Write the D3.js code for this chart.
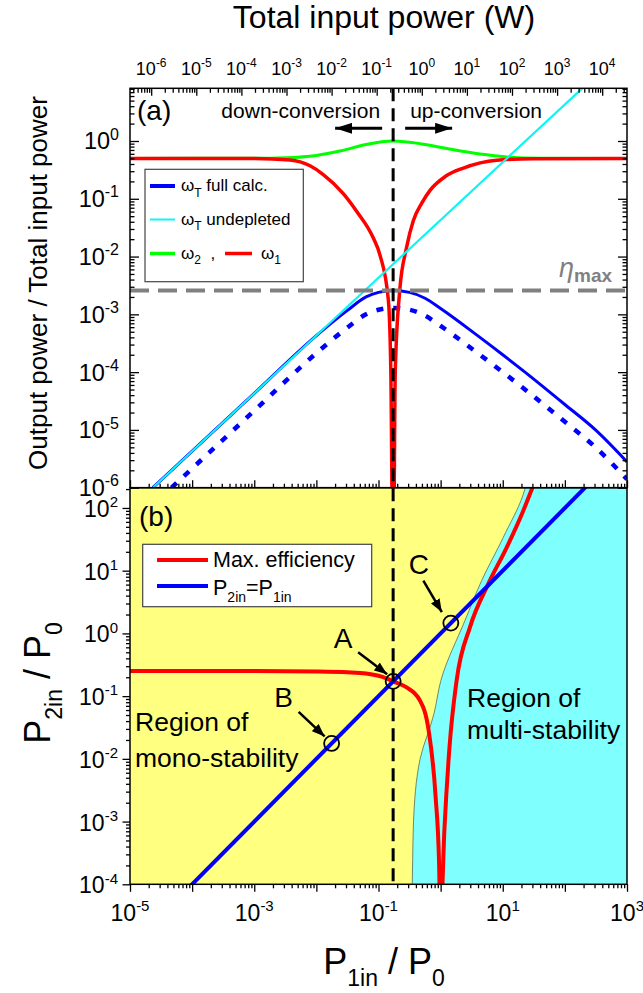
<!DOCTYPE html>
<html>
<head>
<meta charset="utf-8">
<script src="https://cdn.jsdelivr.net/npm/d3@7"></script>
<style>
  html, body { margin: 0; padding: 0; background: #fff; }
  svg { display: block; font-family: "Liberation Sans", Arial, sans-serif; }
  text { white-space: pre; }
</style>
</head>
<body>
<svg id="chart" width="643" height="993"></svg>
<script>
(function () {
  "use strict";

  // ---- data ----
  // panel (a): x = P1in/P0, y = output power / total input power
  const fullCalc = [[2.33e-5, 1.0e-6], [1e-4, 4.3e-6], [1e-3, 4.3e-5], [1e-2, 4.27e-4], [0.0316, 1.17e-3],
    [0.063, 2.0e-3], [0.1, 2.4e-3], [0.172, 2.58e-3], [0.316, 2.4e-3], [0.562, 1.9e-3], [1, 1.26e-3],
    [3.7, 4.5e-4], [10, 2.0e-4], [22.8, 1.0e-4], [100, 2.75e-5], [311, 1.0e-5], [1000, 2.8e-6]];
  const fullCalcHalf = [[4.66e-5, 1.0e-6], [1e-4, 2.15e-6], [1e-3, 2.15e-5], [1e-2, 2.13e-4], [0.0316, 5.9e-4],
    [0.063, 1.0e-3], [0.1, 1.2e-3], [0.172, 1.29e-3], [0.316, 1.2e-3], [0.562, 9.5e-4], [1, 6.3e-4],
    [3.7, 2.25e-4], [10, 1.0e-4], [22.8, 5.0e-5], [100, 1.38e-5], [311, 5.0e-6], [1000, 1.4e-6]];
  const undepleted = [[2.33e-5, 1.0e-6], [1e-2, 4.3e-4], [196, 8.4]];
  const omega2 = [[1e-5, 0.5], [1e-3, 0.502], [3.16e-3, 0.513], [0.01, 0.562], [0.025, 0.676], [0.063, 0.871],
    [0.172, 1.0], [0.5, 0.89], [1.26, 0.74], [4.0, 0.60], [12.6, 0.525], [40, 0.503], [1000, 0.5]];
  const omega1 = [[1e-5, 0.5], [1e-3, 0.497], [3.76e-3, 0.468], [7.9e-3, 0.372], [0.0129, 0.263], [0.0271, 0.123],
    [0.0447, 0.0603], [0.0826, 0.0209], [0.106, 0.0105], [0.144, 1.78e-3], [0.158, 1e-4], [0.168, 3e-7],
    [0.176, 3e-7], [0.186, 1e-4], [0.219, 2.5e-3], [0.282, 0.0141], [0.363, 0.0417], [0.5, 0.085],
    [0.675, 0.14], [1.2, 0.245], [2.32, 0.34], [7.98, 0.466], [31.6, 0.495], [1000, 0.5]];
  const etaMax = 2.58e-3;
  const optimumP1 = 0.172;

  // panel (b): x = P1in/P0, y = P2in/P0
  const maxEfficiency = [[1e-5, 0.251], [1e-3, 0.251], [0.01, 0.247], [0.0316, 0.24], [0.063, 0.229],
    [0.112, 0.204], [0.172, 0.172], [0.275, 0.14], [0.462, 0.086], [0.641, 0.0285], [0.83, 2.5e-3],
    [0.944, 2.2e-4], [0.977, 5e-5], [1.023, 5e-5], [1.15, 7.3e-4], [1.39, 0.0155], [1.81, 0.178],
    [2.97, 1.26], [5.85, 6.17], [11.6, 23.6], [21.4, 90.6], [30.2, 214]];
  const equalInputs = [[1e-5, 1e-5], [1e3, 1e3]];
  const stabilityEdge = [[0.345, 5e-5], [0.355, 2.5e-4], [0.366, 1e-3], [0.466, 9.8e-3], [0.782, 0.0525],
    [1.01, 0.178], [2.47, 1.61], [4.58, 6.97], [10.2, 34], [22.8, 204], [25, 316]];
  const markedPoints = [["A", 0.172], ["B", 0.0176], ["C", 1.46]];

  // tick labels (powers of ten)
  const topExps = [-6, -5, -4, -3, -2, -1, 0, 1, 2, 3, 4];
  const leftExpsA = [0, -1, -2, -3, -4, -5, -6];
  const leftExpsB = [2, 1, 0, -1, -2, -3, -4];
  const bottomExps = [-5, -3, -1, 1, 3];

  // ---- layout ----
  const X0 = 130, X1 = 627;
  const A_TOP = 88.3, A_BOT = 487.7, B_BOT = 884.3;
  const FONT = '"Liberation Sans", Arial, sans-serif';

  const x = d3.scaleLog().domain([1e-5, 1e3]).range([X0, X1]);
  const xTop = d3.scaleLog().domain([Math.pow(10, -6.47), Math.pow(10, 4.55)]).range([X0, X1]);
  const yA = d3.scaleLog().domain([1e-6, Math.pow(10, 0.912)]).range([A_BOT, A_TOP]);
  const yB = d3.scaleLog().domain([1e-4, Math.pow(10, 2.323)]).range([B_BOT, A_BOT]);

  const svg = d3.select("#chart");
  const defs = svg.append("defs");
  defs.append("clipPath").attr("id", "clipA").append("rect")
    .attr("x", X0).attr("y", A_TOP).attr("width", X1 - X0).attr("height", A_BOT - A_TOP);
  defs.append("clipPath").attr("id", "clipB").append("rect")
    .attr("x", X0).attr("y", A_BOT).attr("width", X1 - X0).attr("height", B_BOT - A_BOT);

  function addHead(id, len, half) {
    defs.append("marker").attr("id", id)
      .attr("markerUnits", "userSpaceOnUse")
      .attr("viewBox", `0 0 ${len} ${half * 2}`)
      .attr("markerWidth", len).attr("markerHeight", half * 2)
      .attr("refX", len).attr("refY", half).attr("orient", "auto")
      .append("path").attr("d", `M0,0L${len},${half}L0,${half * 2}Z`).attr("fill", "#000");
  }
  addHead("bigHead", 17, 5.5);
  addHead("smallHead", 13, 5);

  // text with sub/superscripts: parts = [[string, "n" | "sub" | "sup"], ...]
  function rich(textSel, parts, size, small) {
    let shift = 0;
    parts.forEach(([str, kind]) => {
      const target = kind === "sub" ? size * 0.33 : kind === "sup" ? -size * 0.42 : 0;
      const t = textSel.append("tspan").attr("dy", target - shift).text(str);
      if (kind !== "n") t.attr("font-size", small || size * 0.65);
      shift = target;
    });
    return textSel;
  }

  function powerLabel(g, px, py, exp, size, sup, anchor) {
    const t = g.append("text").attr("x", px).attr("y", py)
      .attr("font-size", size).attr("text-anchor", anchor).attr("fill", "#000");
    rich(t, [["10", "n"], [String(exp), "sup"]], size, sup);
  }

  function logTicks(scale) {
    const [a, b] = scale.domain();
    const major = [], minor = [];
    for (let k = Math.floor(Math.log10(a)); k <= Math.ceil(Math.log10(b)); k++) {
      for (let m = 1; m <= 9; m++) {
        const v = m * Math.pow(10, k);
        if (v < a * 0.9999 || v > b * 1.0001) continue;
        (m === 1 ? major : minor).push(v);
      }
    }
    return { major, minor };
  }

  function drawTicks(axisFn, scale, transform, majorLen, minorLen) {
    const t = logTicks(scale);
    [[t.major, majorLen], [t.minor, minorLen]].forEach(([vals, len]) => {
      const g = svg.append("g").attr("transform", transform)
        .call(axisFn(scale).tickValues(vals).tickSize(len).tickFormat(""));
      g.select(".domain").remove();
      g.selectAll("line").attr("stroke", "#000").attr("stroke-width", 1.3);
    });
  }

  // ---- panel (b) background regions ----
  const gB = svg.append("g").attr("clip-path", "url(#clipB)");
  gB.append("rect").attr("x", X0).attr("y", A_BOT).attr("width", X1 - X0).attr("height", B_BOT - A_BOT)
    .attr("fill", "#ffff80");
  const edgeLine = d3.line().x((d) => x(d[0])).y((d) => yB(d[1])).curve(d3.curveMonotoneY);
  const edgePath = edgeLine(stabilityEdge);
  gB.append("path")
    .attr("d", edgePath + `L${X1 + 5},${yB(stabilityEdge[stabilityEdge.length - 1][1])}L${X1 + 5},${yB(stabilityEdge[0][1])}Z`)
    .attr("fill", "#80ffff");
  gB.append("path").attr("d", edgePath).attr("fill", "none").attr("stroke", "#5a6a5a").attr("stroke-width", 0.8);

  const lineB = d3.line().x((d) => x(d[0])).y((d) => yB(d[1]));
  gB.append("path").attr("d", lineB.curve(d3.curveMonotoneX)(maxEfficiency))
    .attr("fill", "none").attr("stroke", "#ff0000").attr("stroke-width", 4);
  gB.append("path").attr("d", d3.line().x((d) => x(d[0])).y((d) => yB(d[1]))(equalInputs))
    .attr("fill", "none").attr("stroke", "#0000ff").attr("stroke-width", 4);

  // ---- panel (a) curves ----
  const gA = svg.append("g").attr("clip-path", "url(#clipA)");
  const lineA = d3.line().x((d) => x(d[0])).y((d) => yA(d[1])).curve(d3.curveMonotoneX);
  gA.append("path").attr("d", lineA(fullCalc)).attr("fill", "none")
    .attr("stroke", "#0000ff").attr("stroke-width", 3);
  gA.append("path").attr("d", lineA(fullCalcHalf)).attr("fill", "none")
    .attr("stroke", "#0000ff").attr("stroke-width", 4.5).attr("stroke-dasharray", "7,10");
  gA.append("path").attr("d", lineA(omega2)).attr("fill", "none")
    .attr("stroke", "#00ff00").attr("stroke-width", 3);
  gA.append("path").attr("d", lineA(omega1)).attr("fill", "none")
    .attr("stroke", "#ff0000").attr("stroke-width", 3.5);
  gA.append("path").attr("d", d3.line().x((d) => x(d[0])).y((d) => yA(d[1]))(undepleted))
    .attr("fill", "none").attr("stroke", "#11f4f4").attr("stroke-width", 2.2);
  gA.append("line").attr("x1", X0).attr("x2", X1).attr("y1", yA(etaMax)).attr("y2", yA(etaMax))
    .attr("stroke", "#808080").attr("stroke-width", 4).attr("stroke-dasharray", "19,9");

  // vertical dashed line through both panels
  const xd = x(optimumP1);
  svg.append("line").attr("x1", xd).attr("x2", xd).attr("y1", A_TOP).attr("y2", B_BOT)
    .attr("stroke", "#000").attr("stroke-width", 3).attr("stroke-dasharray", "13,7");

  // ---- frames and axes ----
  [[A_TOP, A_BOT], [A_BOT, B_BOT]].forEach(([t, b]) => {
    svg.append("rect").attr("x", X0).attr("y", t).attr("width", X1 - X0).attr("height", b - t)
      .attr("fill", "none").attr("stroke", "#000").attr("stroke-width", 1.5);
  });

  drawTicks(d3.axisLeft, yA, `translate(${X0},0)`, -9, -4.5);
  drawTicks(d3.axisRight, yA, `translate(${X1},0)`, -9, -4.5);
  drawTicks(d3.axisTop, xTop, `translate(0,${A_TOP})`, -7.5, -4.5);
  drawTicks(d3.axisBottom, x, `translate(0,${A_BOT})`, -7.5, -4);
  drawTicks(d3.axisLeft, yB, `translate(${X0},0)`, 7.5, 4);
  drawTicks(d3.axisBottom, x, `translate(0,${B_BOT})`, 7.5, 4);

  const labels = svg.append("g").attr("font-family", FONT);
  topExps.forEach((e) => powerLabel(labels, xTop(Math.pow(10, e)), 75, e, 18, 12, "middle"));
  leftExpsA.forEach((e) => powerLabel(labels, X0 - 11, yA(Math.pow(10, e)) + 8.5, e, 23.5, 16, "end"));
  leftExpsB.forEach((e) => powerLabel(labels, X0 - 12, yB(Math.pow(10, e)) + 9, e, 23, 15, "end"));
  bottomExps.forEach((e) => powerLabel(labels, x(Math.pow(10, e)), 921, e, 23, 15, "middle"));

  // axis titles
  labels.append("text").attr("x", 384).attr("y", 28).attr("text-anchor", "middle")
    .attr("font-size", 32).text("Total input power (W)");
  labels.append("text").attr("transform", "translate(47,283) rotate(-90)").attr("text-anchor", "middle")
    .attr("font-size", 26).text("Output power / Total input power");
  rich(labels.append("text").attr("transform", "translate(50,683) rotate(-90)").attr("text-anchor", "middle")
    .attr("font-size", 36), [["P", "n"], ["2in", "sub"], [" / P", "n"], ["0", "sub"]], 36, 23);
  rich(labels.append("text").attr("x", 384).attr("y", 974).attr("text-anchor", "middle")
    .attr("font-size", 36), [["P", "n"], ["1in", "sub"], [" / P", "n"], ["0", "sub"]], 36, 23);

  // ---- panel (a) annotations ----
  const ann = svg.append("g").attr("font-family", FONT);
  ann.append("text").attr("x", X0 + 7).attr("y", A_TOP + 32).attr("font-size", 28).text("(a)");
  ann.append("text").attr("x", xd - 13).attr("y", A_TOP + 30).attr("text-anchor", "end")
    .attr("font-size", 21).text("down-conversion");
  ann.append("text").attr("x", xd + 17).attr("y", A_TOP + 30).attr("font-size", 21).text("up-conversion");
  ann.append("line").attr("x1", xd - 11).attr("x2", xd - 58).attr("y1", A_TOP + 40).attr("y2", A_TOP + 40)
    .attr("stroke", "#000").attr("stroke-width", 3).attr("marker-end", "url(#bigHead)");
  ann.append("line").attr("x1", xd + 12).attr("x2", xd + 59).attr("y1", A_TOP + 40).attr("y2", A_TOP + 40)
    .attr("stroke", "#000").attr("stroke-width", 3).attr("marker-end", "url(#bigHead)");

  const eta = ann.append("text").attr("x", 559).attr("y", yA(etaMax) - 14).attr("fill", "#808080");
  eta.append("tspan").attr("font-size", 27).attr("font-style", "italic").text("η");
  eta.append("tspan").attr("font-size", 19).attr("font-weight", "bold").attr("dy", 5).text("max");

  // legend (a)
  const legA = ann.append("g");
  legA.append("rect").attr("x", 145).attr("y", 169.3).attr("width", 158.3).attr("height", 112.4)
    .attr("fill", "#fff").attr("stroke", "#444").attr("stroke-width", 1.2);
  const legAItems = [
    { color: "#0000ff", width: 4, y: 186, parts: [["ω", "n"], ["T", "sub"], [" full calc.", "n"]] },
    { color: "#11f4f4", width: 2, y: 219.5, parts: [["ω", "n"], ["T", "sub"], [" undepleted", "n"]] },
    { color: "#00ff00", width: 3.5, y: 253.5, parts: [["ω", "n"], ["2", "sub"], ["  ,", "n"]] }
  ];
  legAItems.forEach((it) => {
    legA.append("line").attr("x1", 150).attr("x2", 175).attr("y1", it.y).attr("y2", it.y)
      .attr("stroke", it.color).attr("stroke-width", it.width);
    rich(legA.append("text").attr("x", 181).attr("y", it.y + 5).attr("font-size", 17), it.parts, 17, 12);
  });
  legA.append("line").attr("x1", 225).attr("x2", 252).attr("y1", 253.5).attr("y2", 253.5)
    .attr("stroke", "#ff0000").attr("stroke-width", 3.5);
  rich(legA.append("text").attr("x", 261).attr("y", 258.5).attr("font-size", 17), [["ω", "n"], ["1", "sub"]], 17, 12);

  // ---- panel (b) annotations ----
  ann.append("text").attr("x", X0 + 9).attr("y", A_BOT + 38).attr("font-size", 28).text("(b)");
  const legB = ann.append("g");
  legB.append("rect").attr("x", 142.7).attr("y", 544.3).attr("width", 229).attr("height", 62.4)
    .attr("fill", "#fff").attr("stroke", "#444").attr("stroke-width", 1.2);
  legB.append("line").attr("x1", 157).attr("x2", 208).attr("y1", 560).attr("y2", 560)
    .attr("stroke", "#ff0000").attr("stroke-width", 4);
  legB.append("line").attr("x1", 157).attr("x2", 208).attr("y1", 586).attr("y2", 586)
    .attr("stroke", "#0000ff").attr("stroke-width", 4);
  legB.append("text").attr("x", 213).attr("y", 567).attr("font-size", 21.5).text("Max. efficiency");
  rich(legB.append("text").attr("x", 213).attr("y", 595).attr("font-size", 21.5),
    [["P", "n"], ["2in", "sub"], ["=P", "n"], ["1in", "sub"]], 21.5, 14);

  // marked points A, B, C with arrows
  const labelOffsets = { A: [-50, -33, -35, -29, -6, -7], B: [-48, -36.5, -33, -31.5, -7, -7], C: [-32, -49, -27.5, -42.5, -9, -11] };
  markedPoints.forEach(([name, p]) => {
    const cx = x(p), cy = yB(p);
    const o = labelOffsets[name];
    ann.append("circle").attr("cx", cx).attr("cy", cy).attr("r", 7.5)
      .attr("fill", "none").attr("stroke", "#000").attr("stroke-width", 1.8);
    ann.append("text").attr("x", cx + o[0]).attr("y", cy + o[1]).attr("text-anchor", "middle")
      .attr("font-size", 28).text(name);
    ann.append("line").attr("x1", cx + o[2]).attr("y1", cy + o[3]).attr("x2", cx + o[4]).attr("y2", cy + o[5])
      .attr("stroke", "#000").attr("stroke-width", 2.5).attr("marker-end", "url(#smallHead)");
  });

  const mono = ann.append("text").attr("font-size", 26.5);
  mono.append("tspan").attr("x", X0 + 5).attr("y", 731).text("Region of");
  mono.append("tspan").attr("x", X0 + 5).attr("y", 767).text("mono-stability");
  const multi = ann.append("text").attr("font-size", 26.5);
  multi.append("tspan").attr("x", 467).attr("y", 707).text("Region of");
  multi.append("tspan").attr("x", 467).attr("y", 739).text("multi-stability");
})();
</script>
</body>
</html>
